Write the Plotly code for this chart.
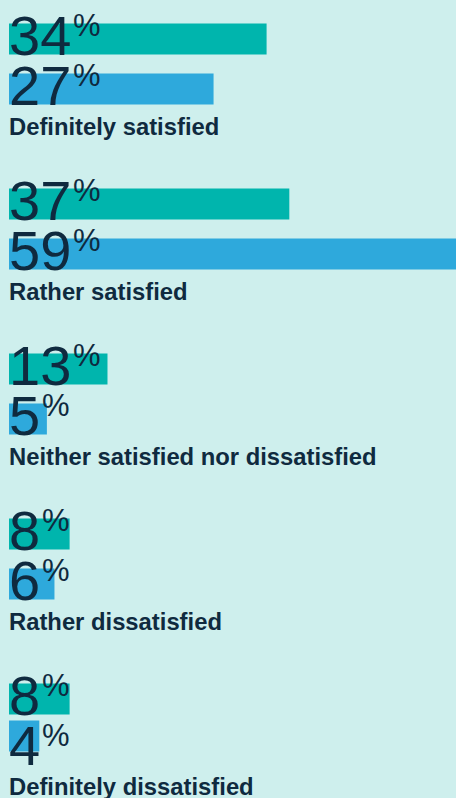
import plotly.graph_objects as go

# Survey answers and the share of respondents (%) for the two compared groups
categories = [
    "Definitely satisfied",
    "Rather satisfied",
    "Neither satisfied nor dissatisfied",
    "Rather dissatisfied",
    "Definitely dissatisfied",
]
share_first = [34, 37, 13, 8, 8]
share_second = [27, 59, 5, 6, 4]

# Styling
BG = "#ceefed"
TEAL = "#00b5ad"
BLUE = "#2ea9dc"
INK = "#0f2a3f"
NUM_FONT = dict(family="Liberation Sans, Arial", size=56, color=INK)
PCT_FONT = dict(family="Liberation Sans, Arial", size=31, color=INK)
LABEL_FONT = dict(family="Liberation Sans, Arial", size=23.8, color=INK, weight="bold")

# Vertical layout, in pixel units of the y axis
W, H = 456, 798
PITCH = 165          # height of one answer block
BAR_H = 31
ROW_A = 39           # centre of first bar inside a block
ROW_B = 89           # centre of second bar inside a block
ROW_B_SHIFT = [0, 0, 0, 0, -13]
DIGIT_ADV = 31.1     # advance of one big digit in px

n = len(categories)
base = [PITCH * i for i in range(n)]
y_a = [b + ROW_A for b in base]
y_b = [b + ROW_B + s for b, s in zip(base, ROW_B_SHIFT)]

fig = go.Figure()
fig.add_trace(go.Bar(x=share_first, y=y_a, orientation="h", width=BAR_H,
                     marker=dict(color=TEAL, line=dict(width=0)), hoverinfo="skip"))
fig.add_trace(go.Bar(x=share_second, y=y_b, orientation="h", width=BAR_H,
                     marker=dict(color=BLUE, line=dict(width=0)), hoverinfo="skip"))

ann = []
for i, (cat, a, b) in enumerate(zip(categories, share_first, share_second)):
    top = base[i]
    for val, num_mid, pct_mid in ((a, top + 35.2, top + 25.0), (b, top + 85.2, top + 75.0)):
        ann.append(dict(x=0, y=num_mid, xref="x", yref="y", text=str(val),
                        xanchor="left", yanchor="middle", showarrow=False,
                        font=NUM_FONT, xshift=-2.5))
        ann.append(dict(x=0, y=pct_mid, xref="x", yref="y", text="%",
                        xanchor="left", yanchor="middle", showarrow=False,
                        font=PCT_FONT, xshift=len(str(val)) * DIGIT_ADV))
    ann.append(dict(x=0, y=top + 126, xref="x", yref="y", text=cat,
                    xanchor="left", yanchor="middle", showarrow=False,
                    font=LABEL_FONT, xshift=-2))

fig.update_layout(
    width=W, height=H,
    margin=dict(l=9, r=0, t=0, b=0),
    paper_bgcolor=BG, plot_bgcolor=BG,
    barmode="overlay", showlegend=False,
    xaxis=dict(range=[0, 59], visible=False, fixedrange=True),
    yaxis=dict(range=[H, 0], visible=False, fixedrange=True),
    annotations=ann,
)

fig.write_html("out.html", config=dict(displayModeBar=False))
